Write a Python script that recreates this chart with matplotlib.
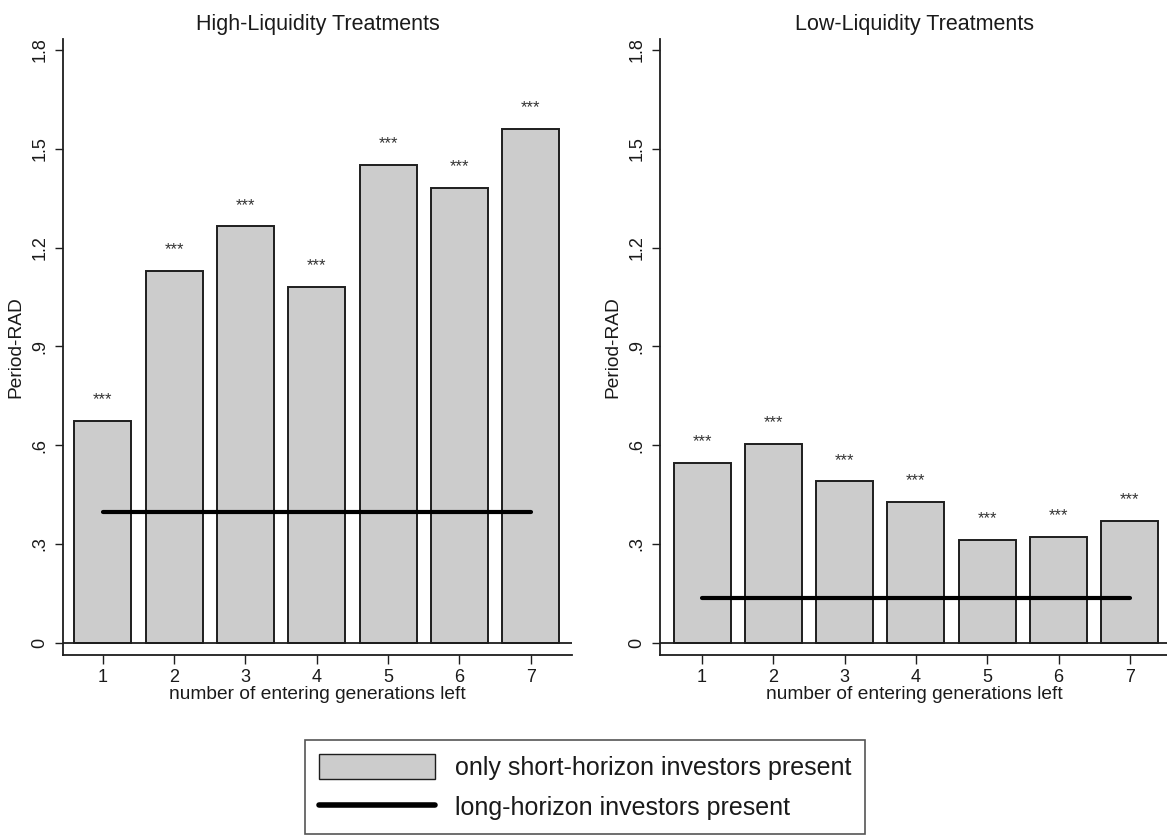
import matplotlib
matplotlib.use("Agg")
import matplotlib.pyplot as plt
from matplotlib.patches import Patch
from matplotlib.lines import Line2D

plt.rcParams['font.family'] = ['Liberation Sans', 'DejaVu Sans']

generations = [1, 2, 3, 4, 5, 6, 7]
high_short = [0.674, 1.129, 1.264, 1.081, 1.451, 1.381, 1.561]
high_long = 0.396
low_short = [0.547, 0.605, 0.490, 0.428, 0.313, 0.322, 0.370]
low_long = 0.137
stars = ['***'] * 7
yticks = [0, 0.3, 0.6, 0.9, 1.2, 1.5, 1.8]
yticklabels = ['0', '.3', '.6', '.9', '1.2', '1.5', '1.8']
titles = ['High-Liquidity Treatments', 'Low-Liquidity Treatments']
xlabel = 'number of entering generations left'
ylabel = 'Period-RAD'
legend_labels = ['only short-horizon investors present', 'long-horizon investors present']

W, H = 1167, 840
fig = plt.figure(figsize=(W / 100, H / 100), dpi=100)

bar_color = '#cccccc'
edge_color = '#1e1e1e'
text_color = '#1a1a1a'

ax_specs = [
    (63, 572, high_short, high_long, (0.44, 7.58)),
    (660, 1169, low_short, low_long, (0.41, 7.55)),
]
top_px, bot_px = 39, 655

for i, (x0, x1, vals, longv, xl) in enumerate(ax_specs):
    ax = fig.add_axes([x0 / W, 1 - bot_px / H, (x1 - x0) / W, (bot_px - top_px) / H])
    ax.bar(generations, vals, width=0.8, color=bar_color, edgecolor=edge_color,
           linewidth=1.4, zorder=2)
    ax.plot([generations[0], generations[-1]], [longv, longv], color='black',
            linewidth=3.0, solid_capstyle='round', zorder=3)
    ax.axhline(0, color=edge_color, linewidth=1.3, zorder=4)
    for g, v, s in zip(generations, vals, stars):
        ax.text(g, v + 0.05, s, ha='center', va='baseline', fontsize=12, color='#333333')
    ax.set_ylim(-0.037, 1.833)
    ax.set_xlim(*xl)
    ax.set_yticks(yticks)
    ax.set_yticklabels(yticklabels, rotation=90, va='center', fontsize=13, color=text_color)
    ax.set_xticks(generations)
    ax.set_xticklabels([str(g) for g in generations], fontsize=13, color=text_color)
    ax.tick_params(axis='y', length=5.5, width=1, color=edge_color, pad=5)
    ax.tick_params(axis='x', length=6.5, width=1, color=edge_color, pad=3.5)
    for side in ['top', 'right']:
        ax.spines[side].set_visible(False)
    for side in ['left', 'bottom']:
        ax.spines[side].set_color(edge_color)
        ax.spines[side].set_linewidth(1.3)
    ax.set_title(titles[i], fontsize=15.5, color=text_color, pad=6.5)
    ax.set_xlabel(xlabel, fontsize=13.8, color=text_color, labelpad=0)
    ax.set_ylabel(ylabel, fontsize=13.8, color=text_color, labelpad=5)

handles = [Patch(facecolor=bar_color, edgecolor=edge_color, linewidth=1.0),
           Line2D([0], [0], color='black', linewidth=4.0, solid_capstyle='round')]
leg = fig.legend(handles, legend_labels, loc='center', bbox_to_anchor=(585 / W, 1 - 787 / H),
                 fontsize=18, handlelength=4.64, handleheight=1.2, handletextpad=0.8,
                 labelspacing=0.56, borderpad=0.55, borderaxespad=0, fancybox=False,
                 framealpha=1, edgecolor='#555555', labelcolor=text_color)
leg.get_frame().set_linewidth(1.2)

fig.savefig('out.png', dpi=100)
